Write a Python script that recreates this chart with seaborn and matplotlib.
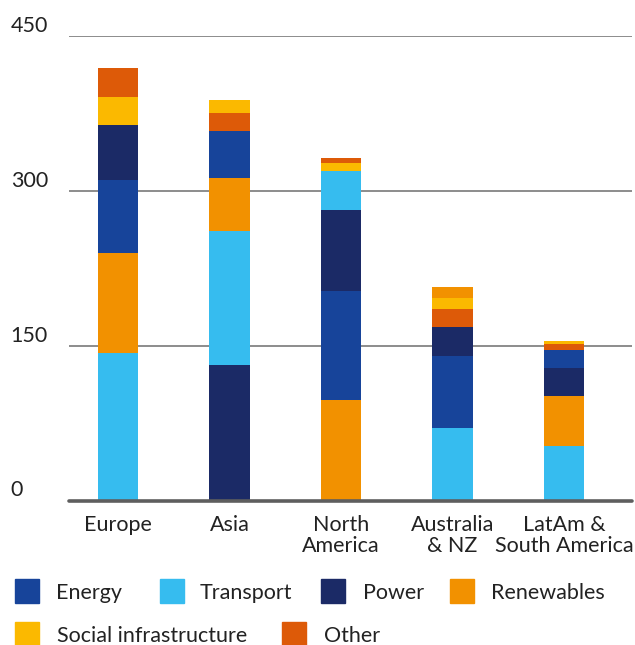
import matplotlib
matplotlib.use("Agg")
import matplotlib.pyplot as plt
from matplotlib.patches import Rectangle
import seaborn as sns
import pandas as pd
import numpy as np

# ---- data ----
categories = ["Europe", "Asia", "North\nAmerica", "Australia\n& NZ", "LatAm &\nSouth America"]
series = ["Energy", "Transport", "Power", "Renewables", "Social infrastructure", "Other"]
energy     = [70.7, 45.5, 105.4, 69.6, 17.4]
transport  = [142.7, 129.7, 37.8, 70.2, 53.0]
power      = [53.2, 131.0, 78.4, 28.1, 27.1]
renewables = [96.8, 51.3, 97.3, 10.6, 48.1]
social     = [27.1, 12.6, 7.7, 10.7, 2.9]
other      = [28.0, 17.4, 4.9, 17.4, 5.9]
# stacking order (bottom -> top) for each category
stack_order = [
    ["Transport", "Renewables", "Energy", "Power", "Social infrastructure", "Other"],
    ["Power", "Transport", "Renewables", "Energy", "Other", "Social infrastructure"],
    ["Renewables", "Energy", "Power", "Transport", "Social infrastructure", "Other"],
    ["Transport", "Energy", "Power", "Other", "Social infrastructure", "Renewables"],
    ["Transport", "Renewables", "Power", "Energy", "Other", "Social infrastructure"],
]
yticks = [0, 150, 300, 450]
colors = {
    "Energy": "#17449A",
    "Transport": "#36BCEF",
    "Power": "#1B2A66",
    "Renewables": "#F29100",
    "Social infrastructure": "#FBB900",
    "Other": "#DD5A08",
}

values = {
    "Energy": energy, "Transport": transport, "Power": power,
    "Renewables": renewables, "Social infrastructure": social, "Other": other,
}

sns.set_theme(style="white")
plt.rcParams["font.family"] = ["Lato", "DejaVu Sans"]
FS = 15.5

W, H = 635, 645
fig = plt.figure(figsize=(W / 100, H / 100), dpi=100)
ax_left, ax_right, ax_top, ax_bot = 69, 632, 35.7, 500.5
ax = fig.add_axes([ax_left / W, 1 - ax_bot / H, (ax_right - ax_left) / W, (ax_bot - ax_top) / H])

# gridlines behind bars
for t in yticks[1:]:
    ax.axhline(t, color="#8c8c8c", lw=1.4, zorder=0)

# build cumulative layers; draw from top layer down so lower segments overdraw
n_layers = len(series)
rows = []
for ci, cat in enumerate(categories):
    cum = 0.0
    for li, s in enumerate(stack_order[ci]):
        cum += values[s][ci]
        rows.append({"category": cat, "layer": li, "series": s, "top": cum})
df = pd.DataFrame(rows)

for li in range(n_layers - 1, -1, -1):
    sub = df[df["layer"] == li]
    sns.barplot(data=sub, x="category", y="top", hue="series", order=categories,
                hue_order=series, palette=colors, dodge=False, width=0.36,
                linewidth=0, saturation=1, legend=False, ax=ax, zorder=2)

ax.axhline(0, color="#5e5e5e", lw=2.6, zorder=3, clip_on=False)

ax.set_ylim(0, 450)
ax.set_xlim(-0.44, 4.61)
sns.despine(ax=ax, left=True, bottom=True, top=True, right=True)
ax.set_xlabel("")
ax.set_ylabel("")
ax.set_yticks(yticks)
ax.set_yticklabels([str(t) for t in yticks])
ax.tick_params(axis="y", length=0, pad=42, labelsize=FS, labelcolor="#222222")
for lab in ax.get_yticklabels():
    lab.set_ha("left")
    lab.set_va("bottom")
ax.tick_params(axis="x", length=0, pad=10.5, labelsize=FS, labelcolor="#222222")
for lab in ax.get_xticklabels():
    lab.set_linespacing(1.08)
    lab.set_multialignment("center")

# legend (flow layout)
legend_rows = [
    [("Energy", 15, 56), ("Transport", 160, 200), ("Power", 321, 363), ("Renewables", 450, 491)],
    [("Social infrastructure", 15, 57), ("Other", 282, 324)],
]
row_y = [591, 633.5]
sq = 24
for r, items in enumerate(legend_rows):
    yc = row_y[r]
    for name, xs, xt in items:
        fig.patches.append(Rectangle((xs / W, 1 - (yc + sq / 2) / H), sq / W, sq / H,
                                     transform=fig.transFigure, color=colors[name]))
        fig.text(xt / W, 1 - yc / H, name, ha="left", va="center_baseline",
                 fontsize=FS, color="#222222")

fig.savefig("out.png", dpi=100)
